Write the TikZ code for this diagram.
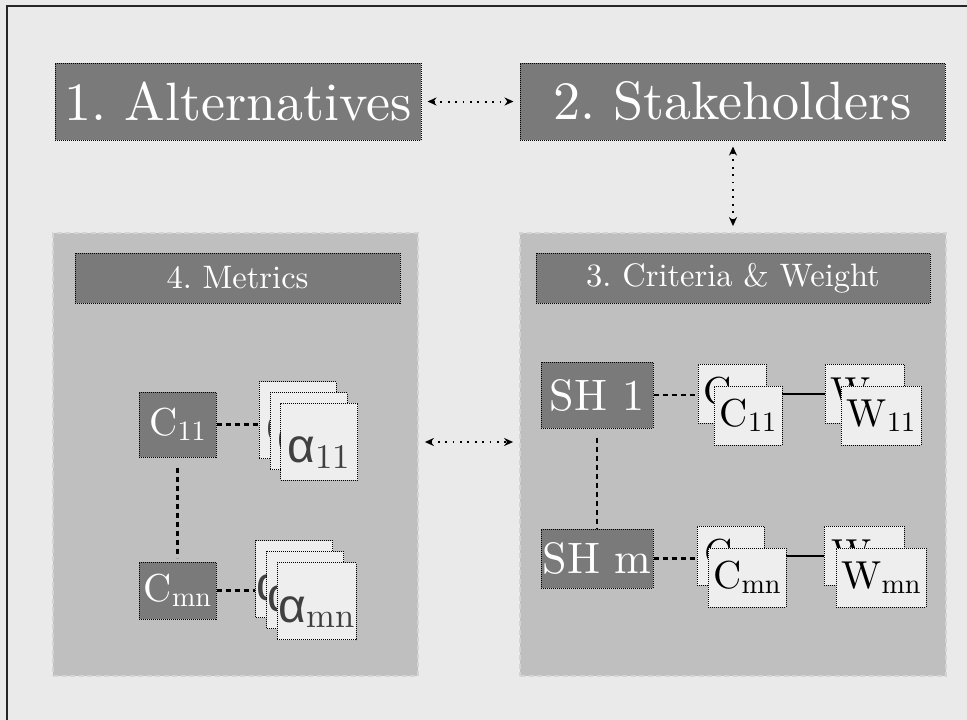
\documentclass[tikz,border=0pt]{standalone}
\usepackage{fontspec}
\usepackage{graphicx}
% Latin Modern at its 10pt design size, scaled up
\setmainfont{lmroman10-regular.otf}
\newfontfamily\greekfont{Liberation Sans}
\usetikzlibrary{arrows.meta}

\definecolor{bgcol}{HTML}{EAEAEA}
\definecolor{panelcol}{HTML}{BFBFBF}
\definecolor{panelline}{HTML}{D4D4D4}
\definecolor{darkfill}{HTML}{7A7A7A}
\definecolor{lightfill}{HTML}{EEEEEE}
\definecolor{alphatext}{HTML}{404040}

\newcommand\bigtitle{\fontsize{54}{60}\selectfont}
\newcommand\paneltitle{\fontsize{32.5}{38}\selectfont}
\newcommand\shsize{\fontsize{44}{50}\selectfont}
\newcommand\csize{\fontsize{39}{44}\selectfont}
\newcommand\alphasize{\fontsize{48}{52}\selectfont}
% lowered, reduced index after a symbol
\newcommand\sub[1]{\raisebox{-0.12em}{\scalebox{0.72}{#1}}}
\newcommand\alphatxt[1]{{\greekfont α}\sub{#1}}

\begin{document}
\frenchspacing
\begin{tikzpicture}[x=1pt,y=-1pt,
  panel/.style={rectangle, fill=panelcol, draw=panelline, line width=1.8pt,
    dash pattern=on 5pt off 3.5pt, inner sep=0pt},
  darkbox/.style={rectangle, fill=darkfill, draw=black, densely dotted,
    line width=1pt, text=white, inner sep=0pt},
  lightbox/.style={rectangle, fill=lightfill, draw=black, densely dotted,
    line width=1pt, text=black, inner sep=0pt, font=\csize,
    minimum height=59pt},
  leftbox/.style={lightbox, align=left, text width=#1, inner xsep=7pt},
  alphabox/.style={lightbox, text=alphatext, font=\alphasize,
    minimum width=77pt, minimum height=77pt,
    text height=46pt, text depth=4pt},
  link/.style={draw=black, line width=2.4pt, dash pattern=on 5pt off 4pt},
  bond/.style={draw=black, line width=2pt},
  flow/.style={draw=black, line width=2pt, dash pattern=on 1.8pt off 5.6pt,
    {Stealth[length=9pt,width=8pt]}-{Stealth[length=9pt,width=8pt]},
    shorten <=6pt, shorten >=6pt}]

% canvas and frame
\useasboundingbox (0,0) rectangle (967,720);
\fill[bgcol] (0,0) rectangle (967,720);
\begin{scope}
  \clip (0,0) rectangle (967,720);
  \draw[line width=1.5pt, black!85] (7,6) rectangle (990,740);
\end{scope}

% the two panels
\node[panel, minimum width=365pt, minimum height=443pt] (lp) at (235.5,454.5) {};
\node[panel, minimum width=426pt, minimum height=443pt] (rp) at (733,454.5) {};

% top-level steps
\node[darkbox, font=\bigtitle, minimum width=366pt, minimum height=77pt] (alt) at (238,101.5) {1. Alternatives};
\node[darkbox, font=\bigtitle, minimum width=425pt, minimum height=77pt] (stake) at (732.5,101.5) {2. Stakeholders};
\node[darkbox, font=\paneltitle, minimum width=325pt, minimum height=50pt] (met) at (237.5,278) {4. Metrics};
\node[darkbox, font=\paneltitle, minimum width=394pt, minimum height=50pt] (crit) at (733,278) {3. Criteria \& Weight};

\draw[flow] (alt) -- (stake);
\draw[flow] (stake.south -| rp.north) -- (rp.north);
\draw[flow] ([yshift=12.5pt]lp.east) -- ([yshift=12.5pt]rp.west);

% metrics panel
\node[darkbox, font=\csize, minimum width=77pt, minimum height=65pt] (c11) at (177.5,424.5) {C\sub{11}};
\node[darkbox, font=\csize, minimum width=77pt, minimum height=57pt] (cmn) at (177.5,590.5) {C\sub{mn}};
\draw[link, shorten <=10pt, shorten >=4pt] (c11) -- (cmn);

\node[alphabox] (a11a) at (297.5,420) {\alphatxt{11}};
\node[alphabox] (a11b) at (308.5,431) {\alphatxt{11}};
\node[alphabox] (a11c) at (319,441.5) {\alphatxt{11}};
\draw[link] (c11.east) -- (c11.east -| a11a.west);

\node[alphabox] (amna) at (294,579) {\alphatxt{mn}};
\node[alphabox] (amnb) at (305,590) {\alphatxt{mn}};
\node[alphabox, minimum width=79pt] (amnc) at (316.5,601) {\alphatxt{mn}};
\draw[link] (cmn.east) -- (cmn.east -| amna.west);

% criteria & weight panel
\node[darkbox, font=\shsize, minimum width=112pt, minimum height=66pt] (sh1) at (597,395) {SH 1};
\node[darkbox, font=\shsize, minimum width=112pt, minimum height=59pt] (shm) at (597,558.5) {SH m};
\draw[link, shorten <=9pt] (sh1) -- (shm);

\node[lightbox, minimum width=68pt] (cb1) at (732,393.5) {C\sub{11}};
\node[lightbox, minimum width=79pt] (wb1) at (864.5,393.5) {W\sub{11}};
\node[leftbox=53pt] (cbm) at (730.5,555.5) {C\sub{mn}};
\node[leftbox=66pt] (wbm) at (864,555.5) {W\sub{mn}};

\draw[link] (sh1.east) -- (sh1.east -| cb1.west);
\draw[bond] (cb1) -- (wb1);
\draw[link] (shm.east) -- (shm.east -| cbm.west);
\draw[bond] (cbm) -- (wbm);

\node[lightbox, minimum width=68pt] (cf1) at (748,415.5) {C\sub{11}};
\node[lightbox, minimum width=80pt] (wf1) at (881,415.5) {W\sub{11}};
\node[lightbox, minimum width=78pt] (cfm) at (747,577.5) {C\sub{mn}};
\node[lightbox, minimum width=90pt] (wfm) at (881,577.5) {W\sub{mn}};
\end{tikzpicture}
\end{document}
